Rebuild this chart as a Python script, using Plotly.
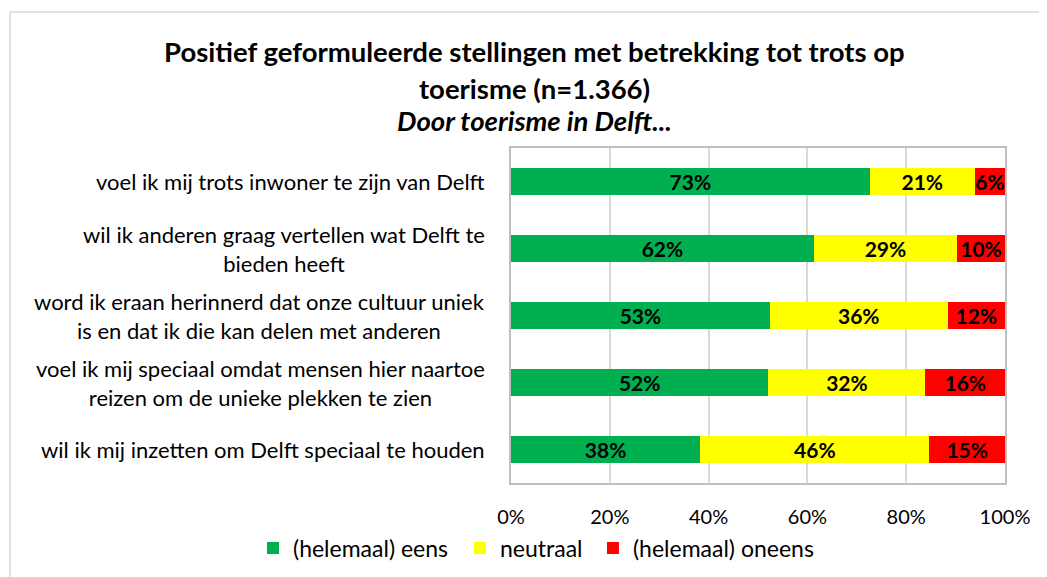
import plotly.graph_objects as go

# stellingen (van boven naar beneden)
stellingen = [
    "voel ik mij trots inwoner te zijn van Delft",
    "wil ik anderen graag vertellen wat Delft te<br>bieden heeft",
    "word ik eraan herinnerd dat onze cultuur uniek<br>is en dat ik die kan delen met anderen",
    "voel ik mij speciaal omdat mensen hier naartoe<br>reizen om de unieke plekken te zien",
    "wil ik mij inzetten om Delft speciaal te houden",
]

eens = [72.6, 61.3, 52.4, 52.1, 38.3]
neutraal = [21.3, 29.0, 36.0, 31.8, 46.4]
oneens = [6.1, 9.7, 11.6, 16.1, 15.3]

# labels zoals in de grafiek
eens_lbl = [73, 62, 53, 52, 38]
neutraal_lbl = [21, 29, 36, 32, 46]
oneens_lbl = [6, 10, 12, 16, 15]

x_ticks = [0, 20, 40, 60, 80, 100]

FONT = "Lato"

# elke reeks krijgt een eigen legenda zodat alles op een regel past
series = [
    ("(helemaal) eens", eens, eens_lbl, "#00b050", "legend", 0.234),
    ("neutraal", neutraal, neutraal_lbl, "#ffff00", "legend2", 0.4317),
    ("(helemaal) oneens", oneens, oneens_lbl, "#ff0000", "legend3", 0.5587),
]

fig = go.Figure()
legends = {}
for naam, vals, lbls, kleur, leg, lx in series:
    fig.add_trace(go.Bar(
        y=list(range(len(stellingen))), x=vals, name=naam, orientation="h",
        marker=dict(color=kleur, line=dict(width=0)),
        text=[f"{v}%" for v in lbls], textposition="inside",
        insidetextanchor="middle", textangle=0, constraintext="none",
        textfont=dict(family=FONT, size=21, color="black", weight="bold"),
        cliponaxis=False, legend=leg,
    ))
    legends[leg] = dict(orientation="h", xref="container", yref="container",
                        x=lx, xanchor="left", y=0.064, yanchor="middle",
                        font=dict(family=FONT, size=23), itemwidth=30,
                        bgcolor="rgba(0,0,0,0)", itemclick=False)

# categorie labels als annotaties (regels gecentreerd)
for i, s in enumerate(stellingen):
    fig.add_annotation(
        x=-0.049, xref="paper", y=i, yref="y", text=s, showarrow=False,
        xanchor="right", yanchor="middle", align="center",
        font=dict(family=FONT, size=22, color="black"),
    )

# titel
titel = [
    ("<b>Positief geformuleerde stellingen met betrekking tot trots op</b>", 1.287),
    ("<b>toerisme (n=1.366)</b>", 1.179),
    ("<b><i>Door toerisme in Delft...</i></b>", 1.081),
]
for t, yy in titel:
    fig.add_annotation(
        x=0.047, xref="paper", y=yy, yref="paper", text=t, showarrow=False,
        xanchor="center", yanchor="middle",
        font=dict(family=FONT, size=27.5, color="black"),
    )

# rand om de hele grafiek
fig.add_shape(type="rect", xref="paper", yref="paper",
              x0=-1.014, x1=1.2, y0=-0.4, y1=1.406,
              line=dict(color="#d9d9d9", width=1.5), layer="below")

fig.update_layout(
    width=1047, height=577,
    margin=dict(l=503, r=50, t=140, b=102, autoexpand=False),
    barmode="stack", bargap=0.6,
    plot_bgcolor="white", paper_bgcolor="white",
    font=dict(family=FONT, size=20, color="black"),
    showlegend=True,
    **legends,
    xaxis=dict(range=[0, 100], tickvals=x_ticks, ticktext=[f"{v}%" for v in x_ticks],
               tickfont=dict(size=20),
               showgrid=True, gridcolor="#d9d9d9", gridwidth=1.5,
               showline=True, linecolor="#bfbfbf", linewidth=1.5, mirror=True,
               ticks="outside", ticklen=15, tickcolor="rgba(0,0,0,0)",
               zeroline=False, fixedrange=True),
    yaxis=dict(range=[4.5, -0.5], showticklabels=False, showgrid=False,
               showline=True, linecolor="#bfbfbf", linewidth=1.5, mirror=True,
               zeroline=False, fixedrange=True),
)

fig.write_html("out.html")
